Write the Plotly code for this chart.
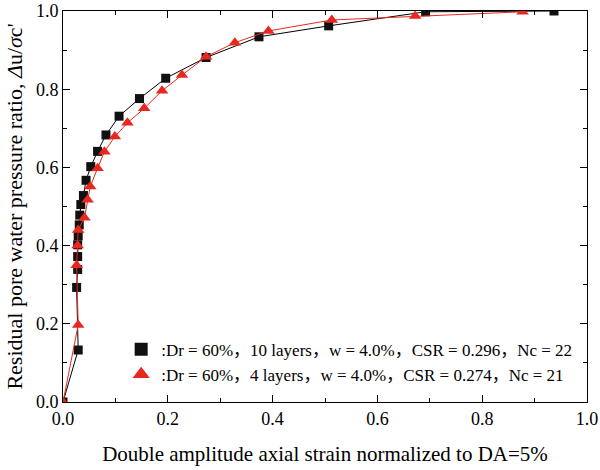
import plotly.graph_objects as go

# Series 1: Dr = 60%, 10 layers (black squares)
x_sq = [0.0, 0.029, 0.026, 0.028, 0.028, 0.028, 0.029, 0.031, 0.032, 0.034, 0.039, 0.044,
        0.053, 0.066, 0.082, 0.107, 0.146, 0.196, 0.273, 0.374, 0.507, 0.692, 0.937]
y_sq = [0.0, 0.133, 0.293, 0.339, 0.372, 0.402, 0.425, 0.453, 0.478, 0.505, 0.528, 0.567,
        0.602, 0.641, 0.683, 0.731, 0.776, 0.828, 0.881, 0.934, 0.962, 0.998, 1.0]

# Series 2: Dr = 60%, 4 layers (red triangles)
x_tr = [0.0, 0.029, 0.026, 0.028, 0.029, 0.041, 0.047, 0.052, 0.066, 0.079, 0.099, 0.123,
        0.155, 0.189, 0.227, 0.273, 0.328, 0.392, 0.513, 0.672, 0.877]
y_tr = [0.0, 0.197, 0.350, 0.400, 0.440, 0.471, 0.517, 0.551, 0.598, 0.640, 0.679, 0.714,
        0.751, 0.796, 0.836, 0.883, 0.919, 0.949, 0.977, 0.987, 0.998]

label_sq = ":Dr = 60%，10 layers，w = 4.0%，CSR = 0.296，Nc = 22"
label_tr = ":Dr = 60%，4 layers，w = 4.0%，CSR = 0.274，Nc = 21"

FONT = "Liberation Serif, Noto Sans CJK SC"

fig = go.Figure()
fig.add_trace(go.Scatter(x=x_sq, y=y_sq, mode="lines+markers", showlegend=False,
                         line=dict(color="#000000", width=1),
                         marker=dict(symbol="square", size=9, color="#111111")))
fig.add_trace(go.Scatter(x=x_tr, y=y_tr, mode="lines+markers", showlegend=False,
                         line=dict(color="#e8281e", width=1),
                         marker=dict(symbol="triangle-up", size=11, color="#e8281e")))
# legend entries (markers only)
fig.add_trace(go.Scatter(x=[None], y=[None], mode="markers", name=label_sq,
                         marker=dict(symbol="square", size=13, color="#111111")))
fig.add_trace(go.Scatter(x=[None], y=[None], mode="markers", name=label_tr,
                         marker=dict(symbol="triangle-up", size=15, color="#e8281e")))

axis_common = dict(
    range=[0, 1.0], showline=True, linecolor="black", linewidth=1, mirror="ticks",
    ticks="inside", ticklen=7, tickwidth=1, tickcolor="black", showgrid=False,
    zeroline=False, dtick=0.2, tickformat=".1f", automargin=False,
    tickfont=dict(family=FONT, size=18, color="black"),
    minor=dict(ticks="inside", ticklen=4, dtick=0.1, tickcolor="black", showgrid=False),
)

fig.update_xaxes(**axis_common,
                 title=dict(text="Double amplitude axial strain normalized to DA=5%",
                            font=dict(family=FONT, size=21, color="black"), standoff=18))
fig.update_yaxes(**axis_common,
                 title=dict(text="Residual pore water pressure ratio, <i>Δ</i>u/<i>σ</i>c'",
                            font=dict(family=FONT, size=22, color="black"), standoff=7))

fig.update_layout(
    width=600, height=470,
    margin=dict(l=63, r=13, t=11, b=68),
    plot_bgcolor="white", paper_bgcolor="white",
    font=dict(family=FONT, color="black"),
    legend=dict(x=0.111, y=0.180, xanchor="left", yanchor="top",
                font=dict(family=FONT, size=17, color="black"),
                bgcolor="rgba(0,0,0,0)", itemwidth=30, tracegroupgap=0),
)

fig.write_html("out.html")
